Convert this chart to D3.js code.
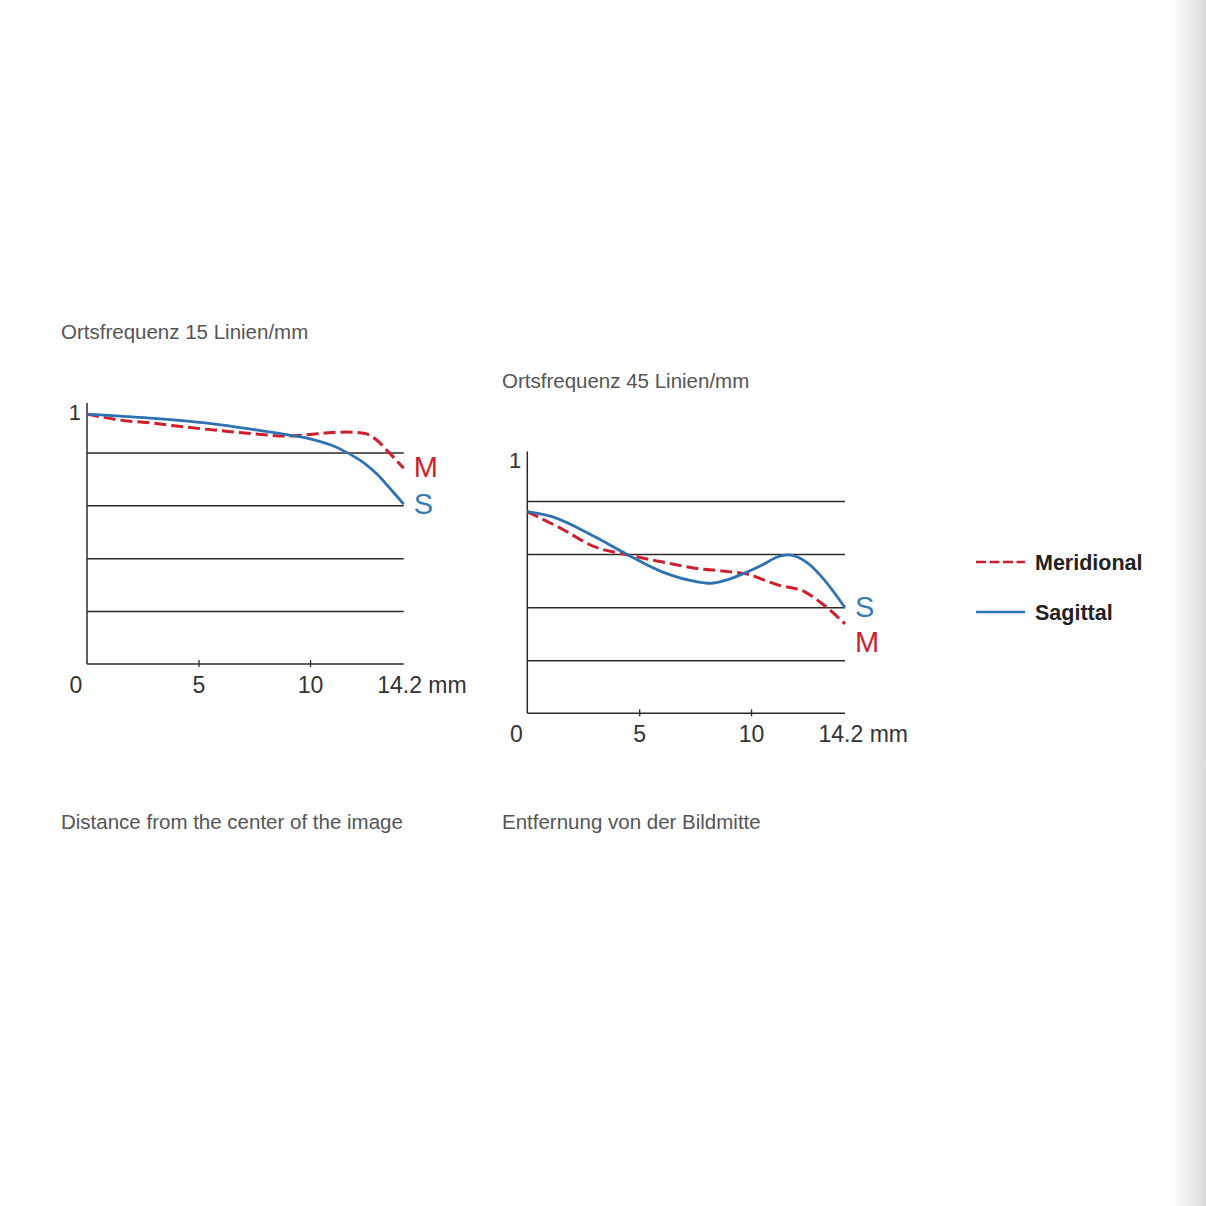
<!DOCTYPE html>
<html>
<head>
<meta charset="utf-8">
<script src="https://cdn.jsdelivr.net/npm/d3@7"></script>
<style>
  html, body { margin: 0; padding: 0; background: #fff; }
  svg { display: block; font-family: "Liberation Sans", Arial, sans-serif; }
</style>
</head>
<body>
<div id="chart"></div>
<script>
// mm distance from image centre
const mm15 = [0, 1.5, 3, 4.5, 6, 7.5, 9, 10, 10.5, 11, 11.6, 12, 12.5, 13, 13.5, 14.2];
const sag15 = [0.945, 0.937, 0.929, 0.918, 0.904, 0.886, 0.866, 0.851, 0.840, 0.826, 0.802, 0.783, 0.755, 0.718, 0.672, 0.604];
const mer15 = [0.945, 0.922, 0.910, 0.895, 0.882, 0.870, 0.862, 0.868, 0.872, 0.875, 0.877, 0.876, 0.871, 0.846, 0.803, 0.740];

const mmSag45 = [0, 1.1, 3, 4.5, 6, 7.5, 8.2, 9, 9.7, 10.5, 11.2, 11.65, 12.55, 13.15, 14.2];
const sag45 = [0.760, 0.741, 0.666, 0.597, 0.534, 0.497, 0.490, 0.505, 0.528, 0.559, 0.590, 0.597, 0.565, 0.515, 0.398];
const mmMer45 = [0, 1.5, 3, 4.5, 6, 7.5, 9, 10, 10.5, 11.2, 12.4, 13.15, 14.2];
const mer45 = [0.760, 0.697, 0.628, 0.597, 0.571, 0.547, 0.534, 0.521, 0.505, 0.484, 0.458, 0.415, 0.337];

const xTicks = [0, 5, 10, 14.2];
const gridValues = [0.2, 0.4, 0.6, 0.8];

const red = '#cf1f2e';
const blue = '#2f72b4';

const svg = d3.select('#chart')
    .append('svg')
    .attr('width', 1206)
    .attr('height', 1206);

// right edge shading
const defs = svg.append('defs');
const grad = defs.append('linearGradient').attr('id', 'edge');
grad.append('stop').attr('offset', '0%').attr('stop-color', '#fff');
grad.append('stop').attr('offset', '100%').attr('stop-color', '#dadada');
svg.append('rect')
    .attr('x', 1172).attr('y', 0)
    .attr('width', 34).attr('height', 1206)
    .attr('fill', 'url(#edge)');

function drawChart(opts) {
    const x = d3.scaleLinear().domain([0, 14.2]).range([opts.left, opts.right]);
    const y = d3.scaleLinear().domain([0, 1]).range([opts.bottom, opts.top]);
    const g = svg.append('g');

    // horizontal grid lines
    g.append('g')
        .attr('transform', `translate(${x(0)},0)`)
        .call(d3.axisLeft(y).tickValues(gridValues).tickSize(-(x(14.2) - x(0))).tickFormat(''))
        .call(s => s.select('.domain').remove())
        .call(s => s.selectAll('line').attr('stroke', '#2b2b2b').attr('stroke-width', 1.5));

    // y axis line
    g.append('line')
        .attr('x1', x(0)).attr('x2', x(0))
        .attr('y1', y(0)).attr('y2', y(0.987))
        .attr('stroke', '#2b2b2b').attr('stroke-width', 1.5);

    g.append('text')
        .attr('x', x(0) - 6)
        .attr('y', y(1) + 20)
        .attr('text-anchor', 'end')
        .attr('font-size', 22)
        .attr('fill', '#333')
        .text('1');

    // x axis
    const xAxis = g.append('g')
        .attr('transform', `translate(0,${y(0)})`)
        .call(d3.axisBottom(x).tickValues(xTicks).tickSize(3).tickPadding(0)
            .tickFormat(d => d === 14.2 ? '14.2 mm' : d));
    xAxis.select('.domain')
        .attr('d', `M${x(0)},0H${x(14.2)}`)
        .attr('stroke', '#2b2b2b').attr('stroke-width', 1.5);
    xAxis.selectAll('.tick line')
        .attr('y1', -4).attr('y2', 3)
        .attr('stroke', '#2b2b2b').attr('stroke-width', 1.3)
        .attr('display', d => (d === 0 || d === 14.2) ? 'none' : null);
    xAxis.selectAll('.tick text')
        .attr('font-family', '"Liberation Sans", Arial, sans-serif')
        .attr('font-size', 23)
        .attr('fill', '#333')
        .attr('dy', null)
        .attr('y', 29)
        .attr('text-anchor', d => d === 14.2 ? 'start' : 'middle')
        .attr('x', d => d === 0 ? -11.5 : (d === 14.2 ? -27 : 0));

    const line = d3.line()
        .x(d => x(d[0]))
        .y(d => y(d[1]))
        .curve(d3.curveMonotoneX);

    g.append('path')
        .datum(opts.merMm.map((m, i) => [m, opts.mer[i]]))
        .attr('d', line)
        .attr('fill', 'none')
        .attr('stroke', red)
        .attr('stroke-width', 3)
        .attr('stroke-dasharray', '12 5');

    g.append('path')
        .datum(opts.sagMm.map((m, i) => [m, opts.sag[i]]))
        .attr('d', line)
        .attr('fill', 'none')
        .attr('stroke', blue)
        .attr('stroke-width', 2.8);

    g.append('text')
        .attr('x', x(14.2) + 10).attr('y', opts.mY)
        .attr('font-size', 29).attr('fill', red)
        .text('M');
    g.append('text')
        .attr('x', x(14.2) + 10).attr('y', opts.sY)
        .attr('font-size', 29).attr('fill', '#3a7cb8')
        .text('S');

    svg.append('text')
        .attr('x', opts.titleX).attr('y', opts.titleY)
        .attr('font-size', 20.5).attr('fill', '#555')
        .text(opts.title);
    svg.append('text')
        .attr('x', opts.titleX).attr('y', 829)
        .attr('font-size', 20.5).attr('fill', '#555')
        .text(opts.footer);
}

drawChart({
    left: 87, right: 403.7, bottom: 664, top: 399.5,
    sagMm: mm15, sag: sag15, merMm: mm15, mer: mer15,
    mY: 477, sY: 514,
    titleX: 61, titleY: 339,
    title: 'Ortsfrequenz 15 Linien/mm',
    footer: 'Distance from the center of the image'
});

drawChart({
    left: 527.3, right: 845, bottom: 713.3, top: 448,
    sagMm: mmSag45, sag: sag45, merMm: mmMer45, mer: mer45,
    mY: 652, sY: 617,
    titleX: 502, titleY: 388,
    title: 'Ortsfrequenz 45 Linien/mm',
    footer: 'Entfernung von der Bildmitte'
});

// legend
const legend = svg.append('g');
const legendItems = [
    { label: 'Meridional', color: red, dash: '10 3.5', y: 562 },
    { label: 'Sagittal', color: blue, dash: null, y: 612 }
];
legendItems.forEach(item => {
    legend.append('line')
        .attr('x1', 976).attr('x2', 1025)
        .attr('y1', item.y).attr('y2', item.y)
        .attr('stroke', item.color)
        .attr('stroke-width', 2.5)
        .attr('stroke-dasharray', item.dash);
    legend.append('text')
        .attr('x', 1035).attr('y', item.y + 7.5)
        .attr('font-size', 21.5)
        .attr('font-weight', 'bold')
        .attr('fill', '#222')
        .text(item.label);
});
</script>
</body>
</html>
